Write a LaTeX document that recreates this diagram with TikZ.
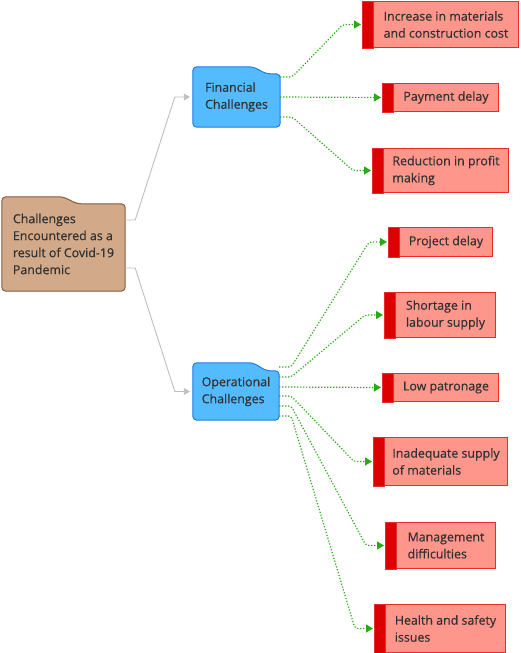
\documentclass[tikz,border=0pt]{standalone}
\usepackage{fontspec}
\setmainfont{Open Sans}[FakeBold=0.5]
\usepackage{tikz}
\usetikzlibrary{arrows.meta,positioning,backgrounds}
\definecolor{tanfill}{RGB}{210, 170, 138}
\definecolor{tanline}{RGB}{140, 90, 60}
\definecolor{bluefill}{RGB}{85, 187, 255}
\definecolor{blueline}{RGB}{30, 125, 230}
\definecolor{salmon}{RGB}{255, 150, 140}
\definecolor{boxred}{RGB}{230, 45, 45}
\definecolor{stripred}{RGB}{220, 0, 0}
\definecolor{dotgreen}{RGB}{40, 170, 20}
\definecolor{linegray}{RGB}{190, 190, 190}
\definecolor{textgray}{RGB}{50, 50, 50}
\tikzstyle{topic} = [rectangle, draw=none, text=textgray, align=left, font=\fontsize{12.4}{17}\selectfont, inner sep=0pt]
\tikzstyle{cause} = [rectangle, draw=boxred, line width=1pt, fill=salmon, text=textgray, align=left, font=\fontsize{12.4}{17}\selectfont, inner sep=0pt, anchor=north west]
\tikzstyle{rootbox} = [draw=tanline, line width=1pt, fill=tanfill, rounded corners=4pt]
\tikzstyle{bluebox} = [draw=blueline, line width=1pt, fill=bluefill, rounded corners=4pt]
\tikzstyle{strip} = [draw=boxred, line width=1pt, fill=stripred]
\tikzstyle{tedge} = [draw=linegray, line width=0.9pt, -{Triangle[length=6pt,width=7pt]}]
\tikzstyle{gedge} = [draw=dotgreen, line width=1.2pt, dash pattern=on 1.2pt off 1.8pt, rounded corners=3pt, -{Triangle[length=7pt,width=8pt]}]

\begin{document}
\begin{tikzpicture}[x=1pt, y=-1pt]
\useasboundingbox (0,0) rectangle (520,653);

% topics =============================
\node[topic, minimum width=123pt, minimum height=94pt] (root) at (63.5,244) {Challenges\\Encountered as a\\result of Covid-19\\Pandemic};
\node[topic, minimum width=87pt, minimum height=60pt] (fin) at (236.5,97) {Financial\\Challenges};
\node[topic, minimum width=86pt, minimum height=57pt] (ops) at (236,391.5) {Operational\\Challenges};

% causes =============================
\node[cause, minimum width=145pt, minimum height=46pt] (c1) at (373,1) {Increase in materials\\and construction cost};
\node[cause, minimum width=105pt, minimum height=28pt] (c2) at (393,83) {Payment delay};
\node[cause, minimum width=125pt, minimum height=44pt] (c3) at (383,148) {Reduction in profit\\making};
\node[cause, minimum width=93pt, minimum height=29pt] (o1) at (399,227) {Project delay};
\node[cause, minimum width=100pt, minimum height=45pt] (o2) at (395,292) {Shortage in\\labour supply};
\node[cause, minimum width=105pt, minimum height=28pt] (o3) at (393,373) {Low patronage};
\node[cause, minimum width=123pt, minimum height=48pt] (o4) at (384,437) {Inadequate supply\\of materials};
\node[cause, minimum width=99pt, minimum height=46pt] (o5) at (396,522) {Management\\difficulties};
\node[cause, minimum width=120pt, minimum height=48pt] (o6) at (385,604) {Health and safety\\issues};

% boxes =============================
\begin{scope}[on background layer]
\path[rootbox] (root.south west) -- (root.north west) -- ([xshift=-62pt]root.north east) -- ([xshift=-48pt,yshift=-7pt]root.north east) -- ([yshift=-7pt]root.north east) -- (root.south east) -- cycle;
\path[bluebox] (fin.south west) -- (fin.north west) -- ([xshift=-27pt]fin.north east) -- ([xshift=-14pt,yshift=-7pt]fin.north east) -- ([yshift=-7pt]fin.north east) -- (fin.south east) -- cycle;
\path[bluebox] (ops.south west) -- (ops.north west) -- ([xshift=-26pt]ops.north east) -- ([xshift=-13pt,yshift=-8pt]ops.north east) -- ([yshift=-8pt]ops.north east) -- (ops.south east) -- cycle;
\end{scope}
\path[strip] (c1.north west) rectangle ([xshift=-11pt]c1.south west)
  (c2.north west) rectangle ([xshift=-11pt]c2.south west)
  (c3.north west) rectangle ([xshift=-11pt]c3.south west)
  (o1.north west) rectangle ([xshift=-11pt]o1.south west)
  (o2.north west) rectangle ([xshift=-11pt]o2.south west)
  (o3.north west) rectangle ([xshift=-11pt]o3.south west)
  (o4.north west) rectangle ([xshift=-11pt]o4.south west)
  (o5.north west) rectangle ([xshift=-11pt]o5.south west)
  (o6.north west) rectangle ([xshift=-11pt]o6.south west);

% edges =============================
\path[tedge] ([yshift=24pt]root.east) -- ++(10,0) -- ([xshift=-18pt]fin.west) -- ([xshift=-3pt]fin.west);
\path[tedge] ([yshift=-24pt]root.east) -- ++(10,0) -- ([xshift=-18pt]ops.west) -- ([xshift=-3pt]ops.west);

\path[gedge] ([yshift=20pt]fin.east) -- ++(12,0) -- ([xshift=-30pt]c1.west) -- ([xshift=-12pt]c1.west);
\path[gedge] (fin.east) -- ([xshift=-12pt]c2.west);
\path[gedge] ([yshift=-20pt]fin.east) -- ++(12,0) -- ([xshift=-30pt]c3.west) -- ([xshift=-12pt]c3.west);

\path[gedge] ([yshift=24.5pt]ops.east) -- ++(12,0) -- ([xshift=-30pt]o1.west) -- ([xshift=-12pt]o1.west);
\path[gedge] ([yshift=14.5pt]ops.east) -- ++(12,0) -- ([xshift=-30pt]o2.west) -- ([xshift=-12pt]o2.west);
\path[gedge] ([yshift=4.5pt]ops.east) -- ([xshift=-12pt]o3.west);
\path[gedge] ([yshift=-4.5pt]ops.east) -- ++(12,0) -- ([xshift=-30pt]o4.west) -- ([xshift=-12pt]o4.west);
\path[gedge] ([yshift=-14.5pt]ops.east) -- ++(12,0) -- ([xshift=-30pt]o5.west) -- ([xshift=-12pt]o5.west);
\path[gedge] ([yshift=-24.5pt]ops.east) -- ++(12,0) -- ([xshift=-30pt]o6.west) -- ([xshift=-12pt]o6.west);

\end{tikzpicture}
\end{document}
